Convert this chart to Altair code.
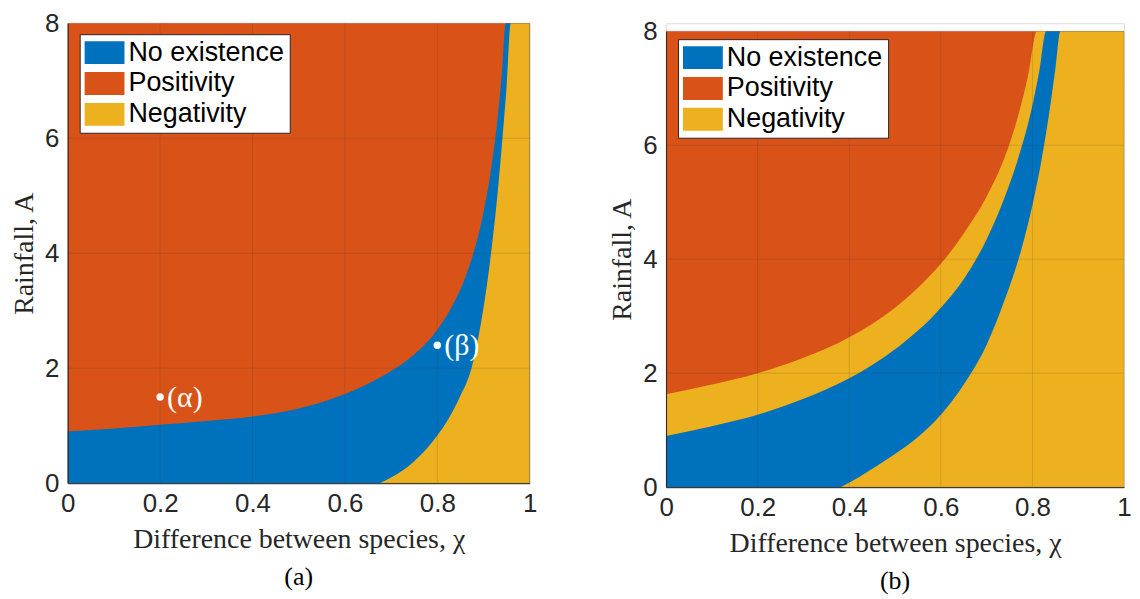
import altair as alt
import pandas as pd

# ---------------- data ----------------
labels = ["No existence", "Positivity", "Negativity"]
colors = ["#0072BD", "#D95319", "#EDB120"]

# Panel (a): boundary Positivity / No existence
a_pos_chi = [0.0, 0.1, 0.2, 0.3, 0.4, 0.5, 0.55, 0.6, 0.65, 0.7, 0.75, 0.8, 0.83, 0.86, 0.88, 0.9, 0.915, 0.93, 0.94, 0.948, 1.0]
a_pos_A = [0.90, 0.95, 1.015, 1.08, 1.16, 1.30, 1.41, 1.55, 1.73, 1.95, 2.24, 2.67, 3.05, 3.57, 4.05, 4.71, 5.38, 6.31, 7.15, 8.0, 8.0]
# Panel (a): boundary No existence / Negativity
a_neg_chi = [0.675, 0.7, 0.725, 0.75, 0.775, 0.8, 0.825, 0.85, 0.874, 0.888, 0.9, 0.91, 0.92, 0.93, 0.94, 0.95, 0.959, 1.0]
a_neg_A = [0.0, 0.1, 0.22, 0.38, 0.58, 0.83, 1.13, 1.52, 2.0, 2.5, 3.05, 3.6, 4.25, 5.0, 5.9, 6.9, 8.0, 8.0]

# Panel (b): boundary Positivity / Negativity (upper)
b_pos_chi = [0.0, 0.1, 0.2, 0.3, 0.4, 0.5, 0.55, 0.6, 0.65, 0.7, 0.74, 0.77, 0.79, 0.81, 1.0]
b_pos_A = [1.63, 1.8, 2.0, 2.27, 2.63, 3.15, 3.5, 3.92, 4.45, 5.1, 5.8, 6.55, 7.2, 8.0, 8.0]
# Panel (b): boundary Negativity / No existence (upper edge of blue band)
b_mid_chi = [0.0, 0.1, 0.2, 0.3, 0.4, 0.5, 0.6, 0.65, 0.7, 0.74, 0.77, 0.8, 0.815, 0.83, 1.0]
b_mid_A = [0.9, 1.07, 1.27, 1.55, 1.91, 2.42, 3.15, 3.65, 4.35, 5.1, 5.8, 6.7, 7.3, 8.0, 8.0]
# Panel (b): boundary No existence / Negativity (lower edge of blue band)
b_neg_chi = [0.381, 0.42, 0.46, 0.5, 0.55, 0.6, 0.65, 0.7, 0.74, 0.775, 0.8, 0.82, 0.84, 0.851, 0.861, 1.0]
b_neg_A = [0.0, 0.17, 0.37, 0.58, 0.88, 1.27, 1.8, 2.5, 3.3, 4.15, 4.95, 5.75, 6.75, 7.4, 8.0, 8.0]

point_chi = [0.2, 0.8]
point_A = [1.5, 2.4]
point_text = ["(α)", "(β)"]

x_ticks = [0, 0.2, 0.4, 0.6, 0.8, 1]
y_ticks = [0, 2, 4, 6, 8]
x_domain = [0, 1]
y_domain = [0, 8]

# ---------------- styling ----------------
AX = "#262626"
SANS = "Liberation Sans"
SERIF = "Liberation Serif"

color_scale = alt.Scale(domain=labels, range=colors)


def region(chis, As, label):
    return pd.DataFrame({"chi": chis, "A": As, "region": [label] * len(chis)})


def make_panel(areas, legend_y, caption, w, h, top_gap, with_points):
    xax = alt.Axis(values=x_ticks, format="~g", labelFont=SANS, labelFontSize=26,
                   labelColor=AX, labelPadding=7, labelFlush=False,
                   title="Difference between species, χ", titleFont=SERIF,
                   titleFontSize=28, titleFontWeight="normal", titleColor=AX,
                   titlePadding=10, grid=False, ticks=False,
                   domainColor=AX, domainWidth=1, zindex=1)
    yax = alt.Axis(values=y_ticks, format="~g", labelFont=SANS, labelFontSize=26,
                   labelColor=AX, labelPadding=9, labelFlush=False,
                   title="Rainfall, A", titleFont=SERIF, titleFontSize=28,
                   titleFontWeight="normal", titleColor=AX, titlePadding=6,
                   grid=False, ticks=False,
                   domainColor=AX, domainWidth=1, zindex=1)
    legend = alt.Legend(title=None, orient="none", legendX=12, legendY=legend_y + top_gap,
                        symbolType="M-1,-0.852H1.963V0.852H-1Z", symbolSize=729,
                        symbolStrokeWidth=0, symbolOpacity=1,
                        labelFont=SANS, labelFontSize=27, labelColor="black",
                        labelOffset=17, fillColor="white", strokeColor=AX,
                        padding=5, rowPadding=3, labelLimit=400)

    yscale = alt.Scale(domain=y_domain, nice=False, range=[h, top_gap])
    bg = pd.DataFrame({"x": [x_domain[0]], "x2": [x_domain[1]],
                       "y": [y_domain[0]], "y2": [y_domain[1]],
                       "region": ["Positivity"]})
    layers = [
        alt.Chart(bg).mark_rect().encode(
            x=alt.X("x:Q", scale=alt.Scale(domain=x_domain, nice=False), axis=xax),
            x2="x2:Q",
            y=alt.Y("y:Q", scale=yscale, axis=yax),
            y2="y2:Q",
            color=alt.Color("region:N", scale=color_scale, legend=legend),
        )
    ]
    for df in areas:
        layers.append(
            alt.Chart(df).mark_area(interpolate="monotone", opacity=1).encode(
                x=alt.X("chi:Q"),
                y=alt.Y("A:Q"),
                y2=alt.datum(0),
                color=alt.Color("region:N", scale=color_scale, legend=legend),
            )
        )
    # grid lines drawn on top of the coloured regions (as in the original)
    gx = pd.DataFrame({"t": x_ticks})
    gy = pd.DataFrame({"t": y_ticks})
    layers.append(alt.Chart(gx).mark_rule(color=AX, opacity=0.15, strokeWidth=1).encode(
        x="t:Q", y=alt.datum(y_domain[0]), y2=alt.datum(y_domain[1])))
    layers.append(alt.Chart(gy).mark_rule(color=AX, opacity=0.15, strokeWidth=1).encode(
        y="t:Q", x=alt.datum(x_domain[0]), x2=alt.datum(x_domain[1])))
    if with_points:
        pts = pd.DataFrame({"chi": point_chi, "A": point_A, "t": point_text})
        layers.append(alt.Chart(pts).mark_point(filled=True, color="white", size=55, opacity=1)
                      .encode(x="chi:Q", y="A:Q"))
        layers.append(alt.Chart(pts).mark_text(align="left", baseline="middle", dx=7, dy=1,
                                               font=SERIF, fontSize=30, color="white")
                      .encode(x="chi:Q", y="A:Q", text="t:N"))
    return alt.layer(*layers).properties(
        width=w, height=h,
        title=alt.TitleParams(caption, orient="bottom", font=SERIF, fontSize=26,
                              fontWeight="normal", color="black", offset=10),
    )


panel_a = make_panel([
    region(a_pos_chi, a_pos_A, "No existence"),
    region(a_neg_chi, a_neg_A, "Negativity"),
], legend_y=11, caption="(a)", w=464, h=462, top_gap=0, with_points=True)

panel_b = make_panel([
    region(b_pos_chi, b_pos_A, "Negativity"),
    region(b_mid_chi, b_mid_A, "No existence"),
    region(b_neg_chi, b_neg_A, "Negativity"),
], legend_y=8, caption="(b)", w=460, h=466, top_gap=8, with_points=False)

chart = alt.hconcat(panel_a, panel_b, spacing=137, bounds="flush").resolve_scale(
    x="independent", y="independent", color="independent"
).properties(
    padding={"left": 2, "top": 0, "right": 0, "bottom": 0}
).configure_view(stroke="transparent").configure(background="white")

chart.save("out.html", embed_options={"renderer": "svg", "actions": False})
